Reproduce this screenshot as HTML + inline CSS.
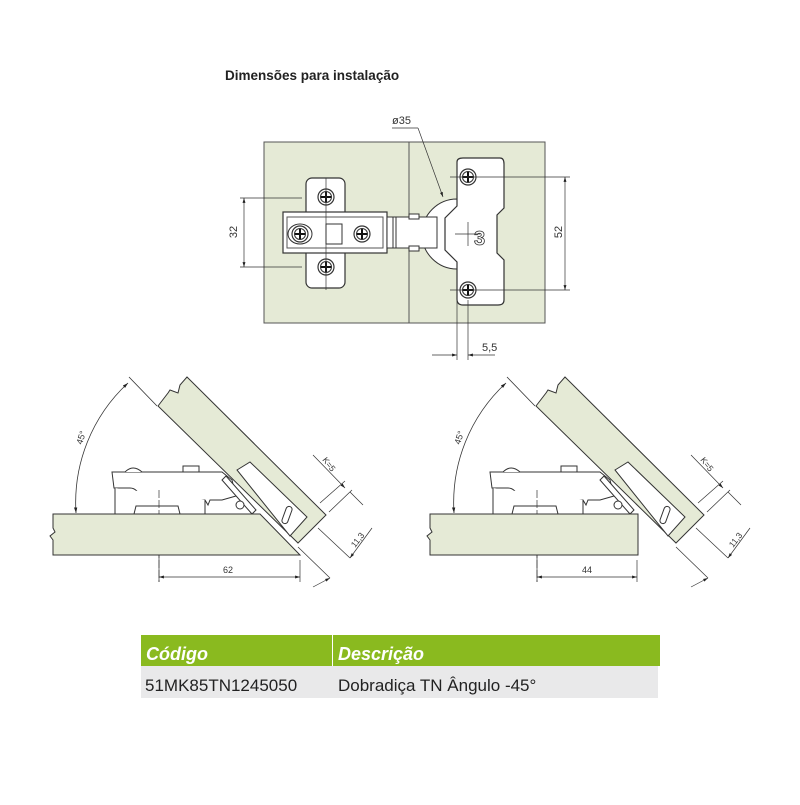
<!DOCTYPE html>
<html><head><meta charset="utf-8"><style>
body{margin:0;background:#fff;width:800px;height:800px;overflow:hidden;font-family:"Liberation Sans",sans-serif}
</style></head><body>
<svg width="800" height="800" viewBox="0 0 800 800" xmlns="http://www.w3.org/2000/svg" font-family="Liberation Sans, sans-serif">
<defs>
<marker id="a" viewBox="0 0 10 10" refX="10" refY="5" markerWidth="7" markerHeight="7" orient="auto-start-reverse"><path d="M0,2 L10,5 L0,8z" fill="#222"/></marker>
<g id="scr"><circle r="8" fill="#fff" stroke="#333" stroke-width="1.2"/><circle r="5.5" fill="none" stroke="#333"/><path d="M-5,0H5M0,-5V5" stroke="#111" stroke-width="2"/></g>
</defs>
<text x="225" y="80" font-size="13.5" font-weight="bold" fill="#222">Dimensões para instalação</text>

<!-- top view -->
<rect x="264" y="142" width="281" height="181" fill="#e5ead6" stroke="#555"/>
<line x1="409" y1="142" x2="409" y2="323" stroke="#555"/>
<path d="M422,234 A35,35 0 0 1 457,199 L457,269 A35,35 0 0 1 422,234z" fill="#fff" stroke="#333"/>
<rect x="306" y="178" width="39" height="110" rx="6" fill="#fff" stroke="#333" stroke-width="1.2"/>
<rect x="283" y="212" width="104" height="41" fill="#fff" stroke="#333" stroke-width="1.2"/>
<rect x="287" y="217" width="96" height="31" fill="none" stroke="#555"/>
<rect x="387" y="217" width="50" height="31" fill="#fff" stroke="#333"/>
<line x1="393" y1="217" x2="393" y2="248" stroke="#333"/><line x1="396" y1="217" x2="396" y2="248" stroke="#333"/>
<rect x="409" y="214" width="10" height="5" fill="#fff" stroke="#333"/><rect x="409" y="246" width="10" height="5" fill="#fff" stroke="#333"/>
<rect x="326" y="224" width="16" height="20" fill="#fff" stroke="#333"/>
<path d="M457,162 Q457,158 463,158 L500,158 Q504,158 504,164 L504,208 L497,215 L497,253 L504,260 L504,300 Q504,305 498,305 L463,305 Q457,305 457,299 L457,262 L445,250 L445,218 L457,206z" fill="#fff" stroke="#333" stroke-width="1.2"/>
<text x="474" y="245" font-size="20" font-weight="bold" fill="#fff" stroke="#333" stroke-width="0.8">3</text>
<ellipse cx="300" cy="234" rx="12" ry="10" fill="#fff" stroke="#333"/>
<use href="#scr" x="300" y="234"/><use href="#scr" x="362" y="234"/>
<use href="#scr" x="326" y="197"/><use href="#scr" x="326" y="267"/>
<use href="#scr" x="468" y="177"/><use href="#scr" x="468" y="290"/>
<g stroke="#333" stroke-width="0.7" fill="none">
<line x1="326" y1="178" x2="326" y2="290"/><line x1="455" y1="234" x2="480" y2="234"/><line x1="468" y1="222" x2="468" y2="246"/>
<line x1="240" y1="198" x2="302" y2="198"/><line x1="240" y1="267" x2="302" y2="267"/>
<line x1="244" y1="198" x2="244" y2="267" marker-start="url(#a)" marker-end="url(#a)"/>
<line x1="450" y1="177" x2="570" y2="177"/><line x1="450" y1="290" x2="570" y2="290"/>
<line x1="565" y1="177" x2="565" y2="290" marker-start="url(#a)" marker-end="url(#a)"/>
<line x1="457" y1="300" x2="457" y2="360"/><line x1="468" y1="300" x2="468" y2="360"/>
<line x1="432" y1="355" x2="457" y2="355" marker-end="url(#a)"/><line x1="495" y1="355" x2="468" y2="355" marker-end="url(#a)"/>
<line x1="392" y1="128" x2="418" y2="128"/><line x1="418" y1="128" x2="443" y2="197" marker-end="url(#a)"/>
</g>
<text x="237" y="232" font-size="11" fill="#333" text-anchor="middle" transform="rotate(-90 237 232)">32</text>
<text x="562" y="232" font-size="11" fill="#333" text-anchor="middle" transform="rotate(-90 562 232)">52</text>
<text x="392" y="124" font-size="11" fill="#333">ø35</text>
<text x="482" y="351" font-size="11" fill="#333">5,5</text>

<!-- side views -->
<g id="side">
<path d="M158,406 L168,393 L170,390 L178,393 L180,385 L187,377 L326,515 L298,543z" fill="#e5ead6" stroke="#333"/>
<path d="M237,470 L250,462 L307,517 L290,536z" fill="#fff" stroke="#333"/>
<rect x="284" y="506" width="6" height="18" rx="3" fill="#fff" stroke="#333" transform="rotate(20 287 515)"/>
<g stroke="#333" fill="#fff">
<path d="M112,472 L222,472 L232,480 L236,496 L222,500 L210,500 L208,505 L205,500 L141,500 Q138,488 130,488 L114,488z"/>
<path d="M115,488 L115,514 L205,514 L205,500"/>
<path d="M125,472 Q133,464 142,472" />
<rect x="183" y="466" width="16" height="6"/>
<path d="M134,514 L136,506 L178,506 L180,514" fill="#fff"/>
<path d="M226,476 L256,510 L252,514 L222,480z"/>
<circle cx="240" cy="505" r="4"/>
</g>
<path d="M157,406 L129,377" stroke="#333" stroke-width="0.8"/>
<path d="M76,513 A163,163 0 0 1 128,383" fill="none" stroke="#333" stroke-width="0.8" marker-start="url(#a)" marker-end="url(#a)"/>
<text x="82" y="445" font-size="9" fill="#333" transform="rotate(-72 82 445)">45°</text>
<line x1="159" y1="490" x2="159" y2="582" stroke="#333" stroke-width="0.7" stroke-dasharray="8,2"/>
<g stroke="#333" stroke-width="0.7" fill="none">
<line x1="320" y1="503" x2="345" y2="481"/><line x1="329" y1="512" x2="352" y2="490"/>
<line x1="313" y1="455" x2="345" y2="488" marker-end="url(#a)"/><line x1="363" y1="505" x2="350" y2="492"/>
<line x1="318" y1="528" x2="350" y2="558"/><line x1="298" y1="547" x2="330" y2="578"/>
<line x1="372" y1="528" x2="350" y2="558" marker-end="url(#a)"/><line x1="313" y1="587" x2="330" y2="578" marker-end="url(#a)"/>
</g>
<text x="322" y="460" font-size="8.5" fill="#333" transform="rotate(52 322 460)">K=5</text>
<text x="355" y="548" font-size="8.5" fill="#333" transform="rotate(-52 355 548)">11,3</text>
</g>
<use href="#side" x="378"/>
<path d="M53,514 L260,514 L300,555 L53,555 L53,540 L50,536 L55,532 L53,528z" fill="#e5ead6" stroke="#333"/>
<path d="M430,514 L638,514 L638,555 L430,555 L430,540 L427,536 L432,532 L430,528z" fill="#e5ead6" stroke="#333"/>
<!-- redraw hinge bottoms over base lines -->
<g stroke="#333" stroke-width="0.7" fill="none">
<line x1="300" y1="560" x2="300" y2="582"/><line x1="159" y1="577" x2="300" y2="577" marker-start="url(#a)" marker-end="url(#a)"/>
<line x1="637" y1="560" x2="637" y2="582"/><line x1="537" y1="577" x2="637" y2="577" marker-start="url(#a)" marker-end="url(#a)"/>
<line x1="159" y1="555" x2="159" y2="582"/><line x1="537" y1="555" x2="537" y2="582"/>
</g>
<text x="228" y="573" font-size="9" fill="#333" text-anchor="middle">62</text>
<text x="587" y="573" font-size="9" fill="#333" text-anchor="middle">44</text>

<!-- table -->
<rect x="141" y="635" width="519" height="31" fill="#8aba1f"/>
<rect x="141" y="666" width="517" height="32" fill="#e9e9ea"/>
<line x1="332.5" y1="635" x2="332.5" y2="666" stroke="#fff" stroke-width="1"/>
<text x="146" y="660" font-size="18" font-weight="bold" font-style="italic" fill="#fff">Código</text>
<text x="338" y="660" font-size="18" font-weight="bold" font-style="italic" fill="#fff">Descrição</text>
<text x="145" y="691" font-size="17" fill="#222">51MK85TN1245050</text>
<text x="338" y="691" font-size="17" fill="#222">Dobradiça TN Ângulo -45°</text>
</svg>
</body></html>
